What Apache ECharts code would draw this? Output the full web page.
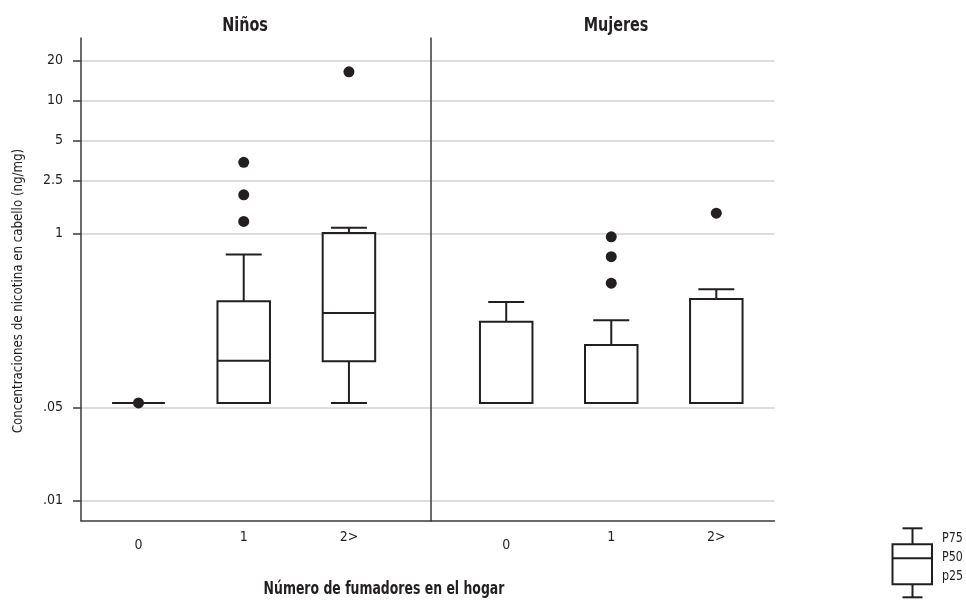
<!DOCTYPE html>
<html><head><meta charset="utf-8">
<script src="https://cdn.jsdelivr.net/npm/echarts@6/dist/echarts.min.js"></script>
<style>html,body{margin:0;padding:0;background:#fff}#c{width:966px;height:601px}</style>
</head><body><div id="c"></div>
<script>
// ---- data ----
const categories = ['0', '1', '2>'];
const panelTitles = ['Niños', 'Mujeres'];
const yTicks = [0.01, 0.05, 1, 2.5, 5, 10, 20];
const yTickLabels = ['.01', '.05', '1', '2.5', '5', '10', '20'];
// each box: [min, P25, P50, P75, max]  (ng/mg)
const ninosBox = [
  [0.054, 0.054, 0.054, 0.054, 0.054],
  [0.054, 0.054, 0.112, 0.313, 0.70],
  [0.054, 0.111, 0.255, 1.016, 1.113]
];
const mujeresBox = [
  [0.054, 0.054, 0.054, 0.219, 0.309],
  [0.054, 0.054, 0.054, 0.147, 0.225],
  [0.054, 0.054, 0.054, 0.325, 0.385]
];
// outliers: [category index, value]
const ninosOut = [[0, 0.054], [1, 3.44], [1, 1.96], [1, 1.24], [2, 16.4]];
const mujeresOut = [[1, 0.95], [1, 0.675], [1, 0.427], [2, 1.43]];
const legendLabels = ['P75', 'P50', 'p25'];
const xAxisTitle = 'Número de fumadores en el hogar';
const yAxisTitle = 'Concentraciones de nicotina en cabello (ng/mg)';

// ---- chart ----
const FONT = "'DejaVu Sans Condensed', 'Liberation Sans Narrow', sans-serif";
const INK = '#231f20';
const L = Math.log10;
const yMin = -2.15, yMax = 1.468;

function boxRows(arr) { return arr.map((b, i) => [i].concat(b.map(L))); }
function outRows(arr) { return arr.map(o => [o[0], L(o[1])]); }

function renderBox(params, api) {
  const x = api.value(0);
  const p = [1, 2, 3, 4, 5].map(i => api.coord([x, api.value(i)]));
  const cx = p[0][0];
  const hw = 26.25, cw = 18;
  const st = { stroke: INK, lineWidth: 2, fill: 'transparent' };
  const ch = [];
  if (p[4][1] < p[3][1] - 0.5) {
    ch.push({ type: 'line', shape: { x1: cx, y1: p[3][1], x2: cx, y2: p[4][1] }, style: st });
    ch.push({ type: 'line', shape: { x1: cx - cw, y1: p[4][1], x2: cx + cw, y2: p[4][1] }, style: st });
  }
  if (p[0][1] > p[1][1] + 0.5) {
    ch.push({ type: 'line', shape: { x1: cx, y1: p[1][1], x2: cx, y2: p[0][1] }, style: st });
    ch.push({ type: 'line', shape: { x1: cx - cw, y1: p[0][1], x2: cx + cw, y2: p[0][1] }, style: st });
  }
  ch.push({ type: 'rect', shape: { x: cx - hw, y: p[3][1], width: 2 * hw, height: p[1][1] - p[3][1] }, style: st });
  ch.push({ type: 'line', shape: { x1: cx - hw, y1: p[2][1], x2: cx + hw, y2: p[2][1] }, style: st });
  return { type: 'group', children: ch };
}

const tickVals = yTicks.map(L);
function yAxisCfg(idx, showLabels) {
  return {
    type: 'value', gridIndex: idx, min: yMin, max: yMax,
    axisLine: { show: true, onZero: false, lineStyle: { color: '#3a3a3a', width: 1.5 } },
    axisTick: { show: showLabels, length: 8, customValues: tickVals, lineStyle: { color: '#3a3a3a', width: 1.5 } },
    axisLabel: {
      show: showLabels, customValues: tickVals, margin: 18,
      fontFamily: FONT, fontSize: 14, color: INK,
      formatter: function (v) {
        let best = 0;
        tickVals.forEach((t, i) => { if (Math.abs(t - v) < Math.abs(tickVals[best] - v)) best = i; });
        return yTickLabels[best];
      }
    },
    splitLine: { show: true, lineStyle: { color: '#d2d2d2', width: 1.5 } }
  };
}
function xAxisCfg(idx, min, max) {
  return {
    type: 'value', gridIndex: idx, min: min, max: max,
    axisLine: { show: true, onZero: false, lineStyle: { color: '#3a3a3a', width: 1.5 } },
    axisTick: { show: false },
    splitLine: { show: false },
    axisLabel: {
      customValues: [0, 1, 2], margin: 10,
      fontFamily: FONT, fontSize: 14, color: INK,
      formatter: function (v) {
        const i = Math.round(v);
        return i === 0 ? '{low|' + categories[i] + '}' : categories[i];
      },
      rich: { low: { fontFamily: FONT, fontSize: 14, color: INK, padding: [8, 0, 0, 0] } }
    }
  };
}

function txt(text, x, y, size, bold, sx, extra) {
  return Object.assign({
    type: 'text', x: x, y: y, scaleX: sx,
    style: { text: text, fontFamily: FONT, fontSize: size, fontWeight: bold ? 'bold' : 'normal', fill: INK, align: 'center', verticalAlign: 'middle' }
  }, extra || {});
}

const chart = echarts.init(document.getElementById('c'), null, { renderer: 'canvas' });
chart.setOption({
  animation: false,
  backgroundColor: '#fff',
  grid: [
    { left: 81, top: 38, width: 350, height: 482.7 },
    { left: 431, top: 38, width: 343.5, height: 482.7 }
  ],
  xAxis: [xAxisCfg(0, -0.5466, 2.780), xAxisCfg(1, -0.716, 2.554)],
  yAxis: [yAxisCfg(0, true), yAxisCfg(1, false)],
  series: [
    { type: 'custom', xAxisIndex: 0, yAxisIndex: 0, renderItem: renderBox, data: boxRows(ninosBox), encode: { x: 0, y: [1, 2, 3, 4, 5] }, z: 3 },
    { type: 'custom', xAxisIndex: 1, yAxisIndex: 1, renderItem: renderBox, data: boxRows(mujeresBox), encode: { x: 0, y: [1, 2, 3, 4, 5] }, z: 3 },
    { type: 'scatter', xAxisIndex: 0, yAxisIndex: 0, data: outRows(ninosOut), symbolSize: 11, itemStyle: { color: INK, opacity: 1 }, z: 4 },
    { type: 'scatter', xAxisIndex: 1, yAxisIndex: 1, data: outRows(mujeresOut), symbolSize: 11, itemStyle: { color: INK, opacity: 1 }, z: 4 }
  ],
  graphic: [
    txt(panelTitles[0], 245, 26, 20, true, 0.8),
    txt(panelTitles[1], 616, 26, 20, true, 0.8),
    txt(xAxisTitle, 384, 589, 18, true, 0.77),
    txt(yAxisTitle, 18, 291, 14, false, 0.94, { rotation: Math.PI / 2 }),
    // legend key (explanatory icon)
    { type: 'line', shape: { x1: 902.5, y1: 528.3, x2: 922.5, y2: 528.3 }, style: { stroke: INK, lineWidth: 2 } },
    { type: 'line', shape: { x1: 912.5, y1: 528.3, x2: 912.5, y2: 544.3 }, style: { stroke: INK, lineWidth: 2 } },
    { type: 'rect', shape: { x: 892.5, y: 544.3, width: 39.5, height: 40 }, style: { stroke: INK, lineWidth: 2, fill: 'transparent' } },
    { type: 'line', shape: { x1: 892.5, y1: 558.3, x2: 932, y2: 558.3 }, style: { stroke: INK, lineWidth: 2 } },
    { type: 'line', shape: { x1: 912.5, y1: 584.3, x2: 912.5, y2: 597.3 }, style: { stroke: INK, lineWidth: 2 } },
    { type: 'line', shape: { x1: 902.5, y1: 597.3, x2: 922.5, y2: 597.3 }, style: { stroke: INK, lineWidth: 2 } },
    txt(legendLabels[0], 952.5, 538, 14, false, 0.88),
    txt(legendLabels[1], 952.5, 557, 14, false, 0.88),
    txt(legendLabels[2], 952.5, 576, 14, false, 0.88)
  ]
});
</script>
</body></html>
